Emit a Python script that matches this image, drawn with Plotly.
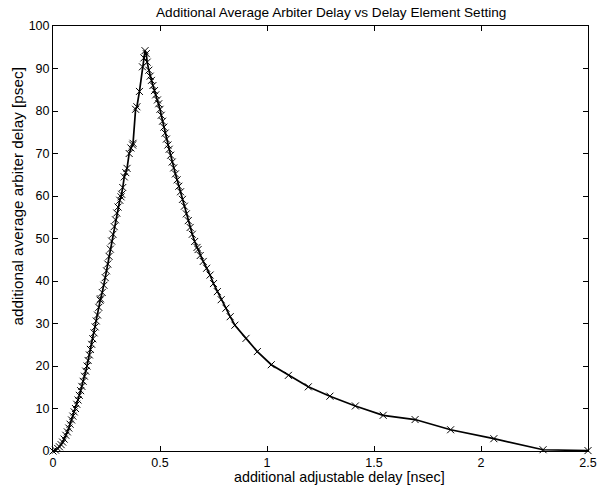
import plotly.graph_objects as go

delay_ns = [
    0.000, 0.012, 0.022, 0.030, 0.038, 0.045, 0.052, 0.060, 0.067, 0.074,
    0.080, 0.087, 0.093, 0.099, 0.105, 0.111, 0.117, 0.123, 0.129, 0.135,
    0.141, 0.147, 0.153, 0.159, 0.164, 0.170, 0.175, 0.181, 0.186, 0.192,
    0.197, 0.202, 0.208, 0.214, 0.220, 0.222, 0.230, 0.238, 0.244, 0.250,
    0.256, 0.262, 0.268, 0.274, 0.280, 0.286, 0.292, 0.298, 0.304, 0.312,
    0.318, 0.321, 0.326, 0.333, 0.340, 0.346, 0.356, 0.364, 0.372, 0.374,
    0.386, 0.392, 0.404, 0.418, 0.425, 0.430, 0.436, 0.440, 0.448, 0.454,
    0.460, 0.467, 0.474, 0.480, 0.488, 0.494, 0.500, 0.506, 0.512, 0.518,
    0.524, 0.530, 0.537, 0.543, 0.550, 0.557, 0.564, 0.572, 0.580, 0.588,
    0.596, 0.605, 0.614, 0.623, 0.632, 0.641, 0.651, 0.662, 0.673, 0.678,
    0.688, 0.702, 0.718, 0.734, 0.750, 0.768, 0.786, 0.808, 0.828, 0.850,
    0.902, 0.955, 1.020, 1.100, 1.193, 1.294, 1.413, 1.543, 1.692, 1.858,
    2.060, 2.290, 2.500,
]
arbiter_ps = [
    0.0, 0.2, 0.6, 1.0, 1.5, 2.1, 2.8, 3.7, 4.5, 5.4,
    6.3, 7.3, 8.2, 9.2, 10.0, 11.0, 12.0, 13.1, 14.2, 15.2,
    16.4, 17.6, 18.8, 20.0, 21.3, 22.6, 23.9, 25.1, 26.4, 27.8,
    29.2, 30.6, 32.0, 33.8, 35.5, 35.8, 37.3, 39.0, 40.8, 42.4,
    44.0, 45.8, 47.5, 49.4, 51.0, 52.8, 54.4, 56.0, 57.4, 59.0,
    59.8, 60.4, 62.0, 64.5, 65.5, 66.5, 70.0, 71.3, 72.0, 72.4,
    80.4, 81.0, 84.6, 90.4, 92.5, 94.2, 93.5, 91.5, 89.6, 88.2,
    87.2, 86.0, 84.8, 83.8, 82.6, 81.7, 80.4, 79.0, 77.6, 76.2,
    74.8, 73.4, 72.0, 71.0, 69.6, 68.0, 66.6, 65.2, 63.8, 62.3,
    61.0, 59.2, 57.6, 55.8, 54.2, 52.6, 51.0, 49.3, 47.9, 47.4,
    46.0, 44.6, 43.0, 41.4, 39.4, 37.5, 35.6, 33.6, 31.6, 29.6,
    26.5, 23.4, 20.3, 17.8, 15.1, 12.9, 10.6, 8.4, 7.4, 5.0,
    2.9, 0.3, 0.1,
]

x_ticks = [0, 0.5, 1, 1.5, 2, 2.5]
x_tick_text = ["0", "0.5", "1", "1.5", "2", "2.5"]
y_ticks = [0, 10, 20, 30, 40, 50, 60, 70, 80, 90, 100]

title_text = "Additional Average Arbiter Delay vs Delay Element Setting"
x_label = "additional adjustable delay [nsec]"
y_label = "additional average arbiter delay [psec]"

font_family = "Liberation Sans, Arial, sans-serif"

fig = go.Figure()
fig.add_trace(go.Scatter(
    x=delay_ns, y=arbiter_ps, mode="lines+markers",
    line=dict(color="black", width=1.7),
    marker=dict(symbol="x-thin", size=7, color="black",
                line=dict(color="black", width=1)),
    cliponaxis=False, showlegend=False,
))

axis_common = dict(
    showline=True, linecolor="black", linewidth=1, mirror="ticks",
    ticks="inside", ticklen=5, tickcolor="black", showgrid=False,
    zeroline=False, automargin=False,
    tickfont=dict(family=font_family, size=12.5, color="black"),
)

fig.update_layout(
    width=598, height=488,
    margin=dict(l=53, r=10, t=26, b=37),
    paper_bgcolor="white", plot_bgcolor="white",
    font=dict(family=font_family, color="black"),
    xaxis=dict(range=[0, 2.5], tickvals=x_ticks, ticktext=x_tick_text, **axis_common),
    yaxis=dict(range=[0, 100], tickvals=y_ticks, **axis_common),
    annotations=[
        dict(text=title_text, xref="paper", yref="paper", x=0.5187, y=1.0306,
             xanchor="center", yanchor="middle", showarrow=False,
             font=dict(family=font_family, size=13.6, color="black")),
        dict(text=x_label, xref="paper", yref="paper", x=0.5355, y=-0.0612,
             xanchor="center", yanchor="middle", showarrow=False,
             font=dict(family=font_family, size=14.3, color="black")),
        dict(text=y_label, xref="paper", yref="paper", x=-0.0680, y=0.60,
             xanchor="center", yanchor="middle", showarrow=False, textangle=-90,
             font=dict(family=font_family, size=15.3, color="black")),
    ],
)

fig.write_html("out.html")
